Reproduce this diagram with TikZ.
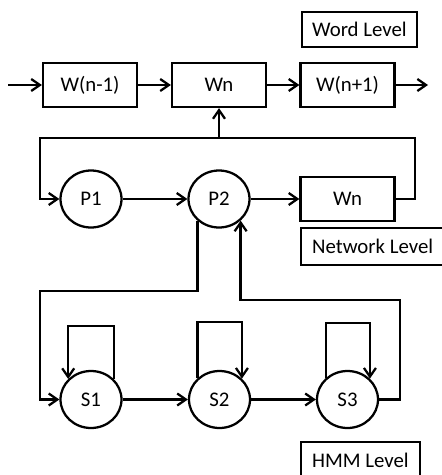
\documentclass[tikz,border=0pt]{standalone}
\usepackage{fontspec}
\setmainfont{Carlito}
\usetikzlibrary{arrows.meta,shapes.geometric}
\begin{document}
\begin{tikzpicture}[x=0.75pt,y=-0.75pt,
  line width=1.7pt,
  every node/.style={font=\fontsize{15.6}{18}\selectfont},
  wbox/.style={draw,rectangle,minimum width=94*0.75pt,minimum height=44*0.75pt,inner sep=0pt},
  lbox/.style={rectangle,anchor=west,inner xsep=7.5pt,minimum height=35*0.75pt},
  st/.style={draw,ellipse,minimum width=61*0.75pt,minimum height=57*0.75pt,inner sep=0pt},
  arr/.style={-{Straight Barb[length=6.5pt,width=9pt,line width=1.7pt]}}]
\useasboundingbox (0,0) rectangle (442,475);
\clip (0,0) rectangle (442,475);
% word level
\node[lbox,draw] (wl) at (301,29.5) {Word Level};
\node[wbox] (wm) at (90,85) {W(n-1)};
\node[wbox] (wn) at (219,85) {Wn};
\node[wbox] (wp) at (347.5,85) {W(n+1)};
\coordinate (in) at (8,85);
\coordinate (out) at (428,85);
\draw[arr] (in) -- (wm);
\draw[arr] (wm) -- (wn);
\draw[arr] (wn) -- (wp);
\draw[arr] (wp) -- (out);
% network level
\node[st] (p1) at (91,199) {P1};
\node[st] (p2) at (219,199) {P2};
\node[wbox] (wn2) at (347.5,199) {Wn};
\node[lbox] (nl) at (301,246.5) {Network Level};
\draw (nl.north west) rectangle ([xshift=10pt]nl.south east);
\coordinate (r1) at (415,138);
\coordinate (l1) at (40,138);
\coordinate (j1) at (219,138);
\draw[arr] (p1) -- (p2);
\draw[arr] (p2) -- (wn2);
\draw[arr] (wn2.east) -| (r1) -- (l1) |- (p1.west);
\draw[arr] (j1) -- (wn.south);
% HMM level
\node[st] (s1) at (91,399.5) {S1};
\node[st] (s2) at (219.5,399.5) {S2};
\node[st] (s3) at (347.5,399.5) {S3};
\node[lbox] (hl) at (301,460.5) {HMM Level};
\draw (hl.north west) rectangle ([yshift=-8pt]hl.south east);
\draw[arr] (s1) -- (s2);
\draw[arr] (s2) -- (s3);
\coordinate (c1) at (40,291);
\coordinate (c3) at (400,300);
\draw[arr] (p2.225) |- (c1) |- (s1.west);
\draw[arr] (s3.east) -| (c3) -| (p2.-45);
% self loops
\coordinate (t1) at (91,326);
\coordinate (t2) at (219.5,322);
\coordinate (t3) at (347.5,323);
\draw[arr] (s1.42) |- (t1) -| (s1.138);
\draw[arr] (s2.136) |- (t2) -| (s2.43);
\draw[arr] (s3.135) |- (t3) -| (s3.43);
\end{tikzpicture}
\end{document}
